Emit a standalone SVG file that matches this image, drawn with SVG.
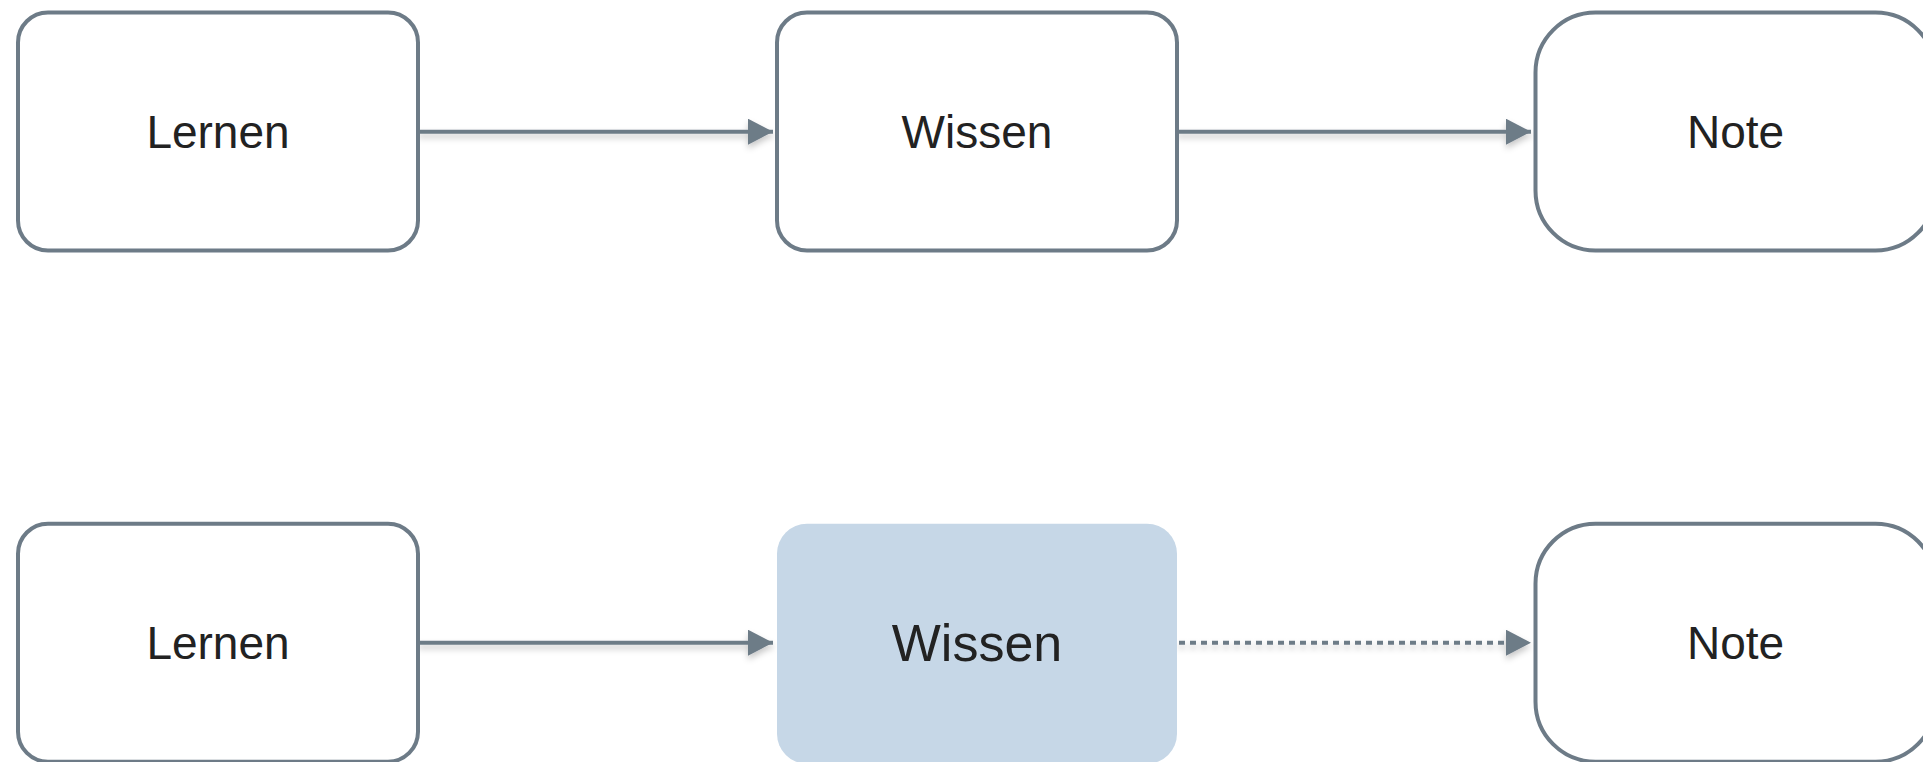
<svg xmlns="http://www.w3.org/2000/svg" width="1923" height="762" viewBox="0 0 1923 762">
<style>
.box{fill:#ffffff;stroke:#6d7b87;stroke-width:4}
.hl{fill:#c6d7e7;stroke:none}
.lbl{font-family:"Liberation Sans",Arial,sans-serif;font-size:46px;fill:#222222;text-anchor:middle}
.big{font-size:52px}
.edge{fill:none;stroke:#6d7b87;stroke-width:4}
.dot{stroke-dasharray:6 5}
</style>
<defs>
<marker id="arr" markerUnits="userSpaceOnUse" markerWidth="26" markerHeight="28" refX="25" refY="13" orient="auto">
<path d="M0,0 L25,13 L0,26 Z" fill="#6d7b87"/>
</marker>
<filter id="sh" x="-5%" y="-100%" width="110%" height="400%">
<feDropShadow dx="0" dy="4" stdDeviation="3" flood-color="#000000" flood-opacity="0.22"/>
</filter>
</defs>
<rect width="1923" height="762" fill="#ffffff"/>
<g id="connectors" filter="url(#sh)">
<path class="edge" d="M418,131.7 H773" marker-end="url(#arr)"/>
<path class="edge" d="M1177,131.7 H1531" marker-end="url(#arr)"/>
<path class="edge" d="M418,642.7 H773" marker-end="url(#arr)"/>
<path class="edge dot" d="M1179,642.7 H1531" marker-end="url(#arr)"/>
</g>
<g id="n1"><rect class="box" x="18" y="12.5" width="400" height="238" rx="30"/><text class="lbl" x="218" y="148">Lernen</text></g>
<g id="n2"><rect class="box" x="777" y="12.5" width="400" height="238" rx="30"/><text class="lbl" x="977" y="148">Wissen</text></g>
<g id="n3"><rect class="box" x="1535.5" y="12.5" width="400" height="238" rx="60"/><text class="lbl" x="1735.5" y="148">Note</text></g>
<g id="n4"><rect class="box" x="18" y="523.7" width="400" height="238" rx="30"/><text class="lbl" x="218" y="659">Lernen</text></g>
<g id="n5"><rect class="hl" x="777" y="523.7" width="400" height="240" rx="30"/><text class="lbl big" x="977" y="661">Wissen</text></g>
<g id="n6"><rect class="box" x="1535.5" y="523.7" width="400" height="238" rx="60"/><text class="lbl" x="1735.5" y="659">Note</text></g>
</svg>
